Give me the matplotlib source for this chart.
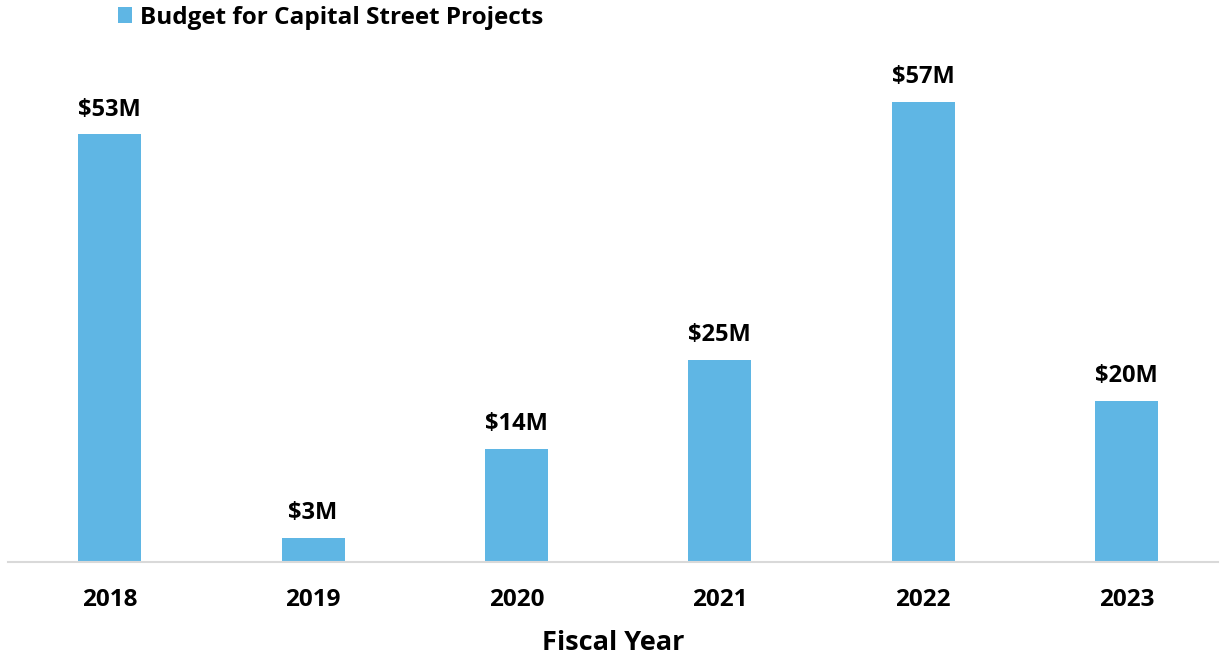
import matplotlib.pyplot as plt

# chart data
years = ["2018", "2019", "2020", "2021", "2022", "2023"]
budget = [53, 3, 14, 25, 57, 20]  # millions of dollars
series_name = "Budget for Capital Street Projects"

plt.rcParams['font.family'] = ['Open Sans', 'DejaVu Sans']

fig = plt.figure(figsize=(12.21, 6.55), dpi=100)
ax = fig.add_axes([8 / 1221, 93 / 655, 1210 / 1221, 1 - 78 / 655 - 93 / 655])

x = list(range(len(years)))
bars = ax.bar(x, budget, width=0.31, color="#5fb6e4", label=series_name, zorder=2)

# value labels on top of each bar
for xi, val in zip(x, budget):
    ax.text(xi, val + 1.6, f"${val}M", ha="center", va="bottom",
            fontsize=17, fontweight="bold", color="black")

ax.set_xlim(-0.5, 5.45)
ax.set_ylim(0, 60)
ax.set_xticks(x)
ax.set_xticklabels(years, fontsize=17.5, fontweight="bold")
ax.tick_params(axis="x", length=0, pad=19)
ax.set_yticks([])
ax.set_xlabel("Fiscal Year", fontsize=19.5, fontweight="bold", labelpad=13)

for side in ["top", "right", "left"]:
    ax.spines[side].set_visible(False)
ax.spines["bottom"].set_color("#d9d9d9")
ax.spines["bottom"].set_linewidth(1.5)

fig.legend(handles=[bars], labels=[series_name], loc="upper left",
           bbox_to_anchor=(96 / 1221, 1.025), frameon=False,
           prop={"size": 17.5, "weight": "bold"},
           handlelength=0.6, handleheight=0.6, handletextpad=0.3)

fig.savefig("out.png", dpi=100)
